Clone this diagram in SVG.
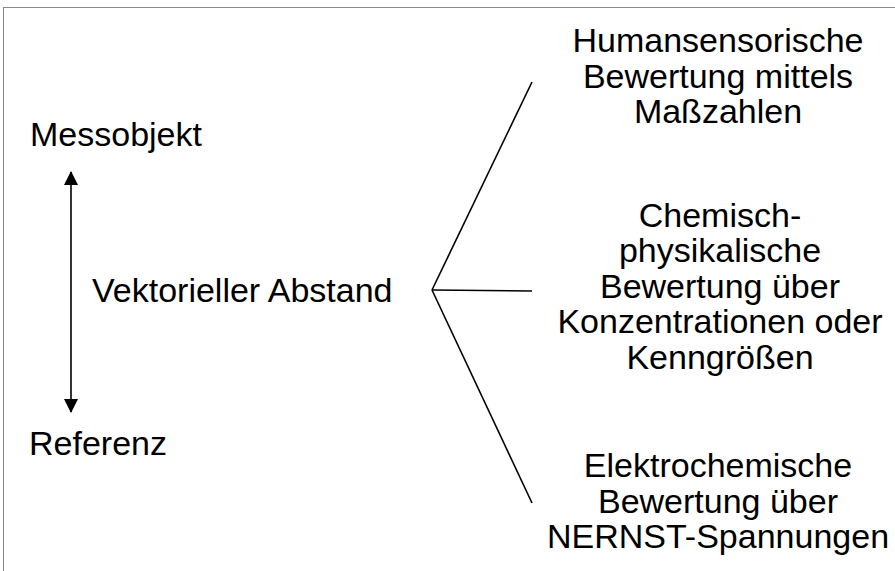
<svg xmlns="http://www.w3.org/2000/svg" width="895" height="571" viewBox="0 0 895 571">
<style>
text{font-family:"Liberation Sans",Arial,sans-serif;font-size:34px;fill:#000}
.c{text-anchor:middle}
.ln{stroke:#000;stroke-width:1.6;fill:none}
</style>
<defs>
<marker id="ah" viewBox="0 0 14 14" refX="13" refY="7" markerWidth="14" markerHeight="14" markerUnits="userSpaceOnUse" orient="auto-start-reverse">
<path d="M0,0 L14,7 L0,14 Z" fill="#000"/>
</marker>
</defs>
<rect x="0" y="0" width="895" height="571" fill="#fff"/>
<rect x="3.5" y="7.5" width="900" height="600" fill="none" stroke="#8a8a8a" stroke-width="1"/>
<g id="messobjekt"><text x="30" y="146">Messobjekt</text></g>
<g id="referenz"><text x="29" y="455">Referenz</text></g>
<g id="abstand"><text x="92" y="301.5">Vektorieller Abstand</text></g>
<g id="human"><text class="c" x="718" y="52">Humansensorische</text><text class="c" x="718" y="87.5">Bewertung mittels</text><text class="c" x="718" y="123">Maßzahlen</text></g>
<g id="chem"><text class="c" x="720" y="226.5">Chemisch-</text><text class="c" x="720" y="262">physikalische</text><text class="c" x="720" y="297.5">Bewertung über</text><text class="c" x="720" y="333">Konzentrationen oder</text><text class="c" x="720" y="368.5">Kenngrößen</text></g>
<g id="elektro"><text class="c" x="718" y="477">Elektrochemische</text><text class="c" x="718" y="512.5">Bewertung über</text><text class="c" x="718" y="548">NERNST-Spannungen</text></g>
<g id="connectors">
<line class="ln" x1="71" y1="172" x2="71" y2="412" marker-start="url(#ah)" marker-end="url(#ah)"/>
<line class="ln" x1="432" y1="290" x2="532" y2="82"/>
<line class="ln" x1="432" y1="290" x2="532" y2="291"/>
<line class="ln" x1="432" y1="290" x2="532" y2="503"/>
</g>
</svg>
